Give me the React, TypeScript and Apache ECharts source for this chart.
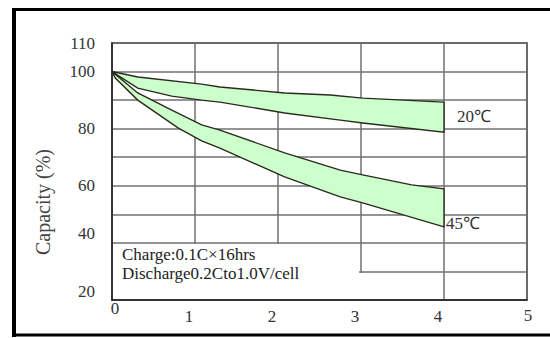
import React, { useEffect, useRef } from "react";
import * as echarts from "echarts";

// X axis ticks and Y tick labels shown
const xTickValues = [0, 1, 2, 3, 4, 5];
const yLabelValues = [20, 40, 60, 80, 100, 110];
const yRaisedLabels = [20, 40];

// 20°C band: upper and lower boundary curves [x, capacity %]
const upper20 = [
  [0, 100], [0.31, 98.1], [1.08, 95.6], [1.3, 94.6], [2.08, 92.5],
  [2.63, 91.8], [3.02, 90.7], [4.0, 89.3],
];
const lower20 = [
  [0, 100], [0.31, 94.2], [0.72, 91.4], [1.08, 90.0], [1.3, 89.3],
  [2.08, 85.5], [2.75, 83.0], [3.02, 82.0], [4.0, 78.8],
];

// 45°C band
const upper45 = [
  [0, 100], [0.31, 92.5], [0.72, 86.5], [1.08, 81.3], [1.3, 79.5],
  [2.08, 71.5], [2.75, 65.5], [3.02, 63.8], [3.61, 60.3], [4.0, 58.9],
];
const lower45 = [
  [0, 100], [0.04, 97.7], [0.31, 90.0], [0.8, 80.2], [1.08, 75.7],
  [1.3, 73.2], [2.08, 63.1], [2.75, 56.1], [3.02, 54.0], [4.0, 45.6],
];

const bandLabels = ["20℃", "45℃"];
const noteLines = ["Charge:0.1C×16hrs", "Discharge0.2Cto1.0V/cell"];
const yAxisTitle = "Capacity (%)";

const bands = [
  { upper: upper20, lower: lower20 },
  { upper: upper45, lower: lower45 },
];

const SERIF = "'Liberation Serif', 'Times New Roman', serif";

export default function App() {
  const ref = useRef<HTMLDivElement>(null);

  useEffect(() => {
    if (!ref.current) return;
    const chart = echarts.init(ref.current, null, { renderer: "svg" });
    chart.setOption({
      animation: false,
      backgroundColor: "#ffffff",
      grid: {
        left: 112,
        top: 43,
        right: 23,
        bottom: 38,
        show: true,
        borderColor: "#222",
        borderWidth: 1.5,
        backgroundColor: "transparent",
      },
      xAxis: {
        type: "value",
        min: xTickValues[0],
        max: xTickValues[xTickValues.length - 1],
        interval: 1,
        axisLine: { show: true, lineStyle: { color: "#222", width: 1.5 } },
        axisTick: { show: false },
        splitLine: { show: true, lineStyle: { color: "#707070", width: 1.5 } },
        axisLabel: {
          margin: 0,
          fontFamily: SERIF,
          fontSize: 17,
          color: "#333",
          formatter: (v: number) => {
            if (!xTickValues.includes(v)) return "";
            if (v === xTickValues[0]) return `{zero|${v}}`;
            if (v === xTickValues[xTickValues.length - 1]) return `{last|${v}}`;
            return `{mid|${v}}`;
          },
          rich: {
            zero: { fontFamily: SERIF, fontSize: 17, color: "#333", padding: [0, 0, 0, 6] },
            mid: { fontFamily: SERIF, fontSize: 17, color: "#333", padding: [8, 12, 0, 0] },
            last: { fontFamily: SERIF, fontSize: 17, color: "#333", padding: [7, 0, 0, 2] },
          },
        },
      },
      yAxis: {
        type: "value",
        min: 20,
        max: 110,
        interval: 10,
        axisLine: { show: true, lineStyle: { color: "#222", width: 1.5 } },
        axisTick: { show: false },
        splitLine: { show: true, lineStyle: { color: "#707070", width: 1.5 } },
        axisLabel: {
          margin: 17,
          fontFamily: SERIF,
          fontSize: 17,
          color: "#333",
          formatter: (v: number) => {
            if (!yLabelValues.includes(v)) return "";
            return yRaisedLabels.includes(v) ? `{up|${v}}` : `${v}`;
          },
          rich: {
            up: { fontFamily: SERIF, fontSize: 17, color: "#333", padding: [0, 0, 18, 0] },
          },
        },
      },
      series: [
        {
          type: "custom",
          data: bands.map((_, i) => [i]),
          encode: { x: -1, y: -1 },
          clip: true,
          z: 5,
          renderItem: (params: any, api: any) => {
            const band = bands[params.dataIndex];
            const pts = [...band.upper, ...band.lower.slice().reverse()].map(
              (p) => api.coord(p)
            );
            return {
              type: "polygon",
              shape: { points: pts },
              style: {
                fill: "#ccffcc",
                stroke: "#2a2a1c",
                lineWidth: 1.4,
              },
            };
          },
        },
      ],
      graphic: [
        // white box holding the test-condition note
        {
          type: "rect",
          shape: { x: 113, y: 244, width: 246, height: 55 },
          style: { fill: "#ffffff" },
          z: 50,
        },
        {
          type: "rect",
          shape: { x: 357, y: 273, width: 7, height: 26 },
          style: { fill: "#ffffff" },
          z: 50,
        },
        {
          type: "text",
          x: 122,
          y: 254,
          z: 60,
          style: {
            text: noteLines[0],
            fontFamily: SERIF,
            fontSize: 17,
            fill: "#222",
            verticalAlign: "middle",
            align: "left",
          },
        },
        {
          type: "text",
          x: 122,
          y: 273,
          z: 60,
          style: {
            text: noteLines[1],
            fontFamily: SERIF,
            fontSize: 17,
            fill: "#222",
            verticalAlign: "middle",
            align: "left",
          },
        },
        {
          type: "text",
          x: 457,
          y: 116,
          z: 60,
          style: {
            text: bandLabels[0],
            fontFamily: SERIF,
            fontSize: 17,
            fill: "#333",
            verticalAlign: "middle",
            align: "left",
          },
        },
        {
          type: "text",
          x: 446,
          y: 223,
          z: 60,
          style: {
            text: bandLabels[1],
            fontFamily: SERIF,
            fontSize: 17,
            fill: "#333",
            verticalAlign: "middle",
            align: "left",
          },
        },
        {
          type: "text",
          x: 43,
          y: 202,
          rotation: Math.PI / 2,
          z: 60,
          style: {
            text: yAxisTitle,
            fontFamily: SERIF,
            fontSize: 20,
            fill: "#444",
            verticalAlign: "middle",
            align: "center",
          },
        },
        // outer frame
        {
          type: "line",
          shape: { x1: 14, y1: 8, x2: 14, y2: 337 },
          style: { stroke: "#000", lineWidth: 4 },
          z: 70,
        },
        {
          type: "line",
          shape: { x1: 12, y1: 9.5, x2: 550, y2: 9.5 },
          style: { stroke: "#000", lineWidth: 3 },
          z: 70,
        },
        {
          type: "line",
          shape: { x1: 12, y1: 335, x2: 550, y2: 335 },
          style: { stroke: "#000", lineWidth: 3 },
          z: 70,
        },
      ],
    });
    return () => chart.dispose();
  }, []);

  return (
    <div
      ref={ref}
      style={{ position: "fixed", left: 0, top: 0, width: 550, height: 338 }}
    />
  );
}
